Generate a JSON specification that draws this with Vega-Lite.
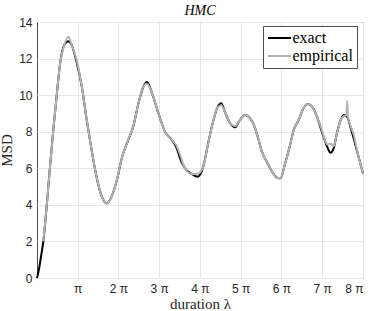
{
  "$schema": "https://vega.github.io/schema/vega-lite/v6.json",
  "width": 326,
  "height": 256,
  "autosize": "none",
  "padding": {"left": 37, "top": 22, "right": 11, "bottom": 33},
  "background": "white",
  "title": {"text": "HMC", "font": "Liberation Serif", "fontStyle": "italic", "fontWeight": "normal", "fontSize": 14, "color": "#000", "frame": "group", "baseline": "alphabetic", "offset": 3, "dy": 16},
  "config": {
    "view": {"stroke": "#4d4d4d", "strokeWidth": 1},
    "axis": {"gridColor": "#e8e8e8", "gridWidth": 1, "domain": false, "tickColor": "#4d4d4d", "labelFont": "Liberation Sans", "labelFontSize": 12, "labelColor": "#262626", "titleFont": "Liberation Serif", "titleFontWeight": "normal", "titleFontSize": 15, "titleColor": "#262626"}
  },
  "datasets": {
    "exact": [
      {"l": 0, "msd": 0, "s": "exact"},
      {"l": 0.157, "msd": 0.5, "s": "exact"},
      {"l": 0.314, "msd": 1.2, "s": "exact"},
      {"l": 0.487, "msd": 2.0, "s": "exact"},
      {"l": 0.754, "msd": 4.0, "s": "exact"},
      {"l": 1.005, "msd": 6.1, "s": "exact"},
      {"l": 1.257, "msd": 8.1, "s": "exact"},
      {"l": 1.508, "msd": 9.9, "s": "exact"},
      {"l": 1.775, "msd": 11.7, "s": "exact"},
      {"l": 2.105, "msd": 12.74, "s": "exact"},
      {"l": 2.419, "msd": 12.95, "s": "exact"},
      {"l": 2.67, "msd": 12.74, "s": "exact"},
      {"l": 3.047, "msd": 11.83, "s": "exact"},
      {"l": 3.456, "msd": 10.46, "s": "exact"},
      {"l": 3.833, "msd": 8.64, "s": "exact"},
      {"l": 4.21, "msd": 7.0, "s": "exact"},
      {"l": 4.587, "msd": 5.54, "s": "exact"},
      {"l": 4.995, "msd": 4.45, "s": "exact"},
      {"l": 5.372, "msd": 4.08, "s": "exact"},
      {"l": 5.749, "msd": 4.45, "s": "exact"},
      {"l": 6.158, "msd": 5.36, "s": "exact"},
      {"l": 6.566, "msd": 6.63, "s": "exact"},
      {"l": 7.037, "msd": 7.55, "s": "exact"},
      {"l": 7.414, "msd": 8.27, "s": "exact"},
      {"l": 7.823, "msd": 9.55, "s": "exact"},
      {"l": 8.2, "msd": 10.46, "s": "exact"},
      {"l": 8.482, "msd": 10.72, "s": "exact"},
      {"l": 8.828, "msd": 10.19, "s": "exact"},
      {"l": 9.362, "msd": 9.0, "s": "exact"},
      {"l": 9.865, "msd": 8.0, "s": "exact"},
      {"l": 10.399, "msd": 7.55, "s": "exact"},
      {"l": 10.776, "msd": 7.09, "s": "exact"},
      {"l": 11.027, "msd": 6.54, "s": "exact"},
      {"l": 11.404, "msd": 6.0, "s": "exact"},
      {"l": 11.938, "msd": 5.69, "s": "exact"},
      {"l": 12.378, "msd": 5.54, "s": "exact"},
      {"l": 12.818, "msd": 6.09, "s": "exact"},
      {"l": 13.195, "msd": 7.36, "s": "exact"},
      {"l": 13.603, "msd": 8.64, "s": "exact"},
      {"l": 13.917, "msd": 9.33, "s": "exact"},
      {"l": 14.2, "msd": 9.55, "s": "exact"},
      {"l": 14.483, "msd": 9.09, "s": "exact"},
      {"l": 14.891, "msd": 8.46, "s": "exact"},
      {"l": 15.268, "msd": 8.24, "s": "exact"},
      {"l": 15.645, "msd": 8.64, "s": "exact"},
      {"l": 16.022, "msd": 8.91, "s": "exact"},
      {"l": 16.431, "msd": 8.73, "s": "exact"},
      {"l": 16.808, "msd": 8.2, "s": "exact"},
      {"l": 17.028, "msd": 7.7, "s": "exact"},
      {"l": 17.342, "msd": 6.9, "s": "exact"},
      {"l": 17.719, "msd": 6.36, "s": "exact"},
      {"l": 18.127, "msd": 5.81, "s": "exact"},
      {"l": 18.504, "msd": 5.48, "s": "exact"},
      {"l": 18.755, "msd": 5.45, "s": "exact"},
      {"l": 19.132, "msd": 6.27, "s": "exact"},
      {"l": 19.541, "msd": 7.36, "s": "exact"},
      {"l": 19.792, "msd": 8.09, "s": "exact"},
      {"l": 20.169, "msd": 8.64, "s": "exact"},
      {"l": 20.546, "msd": 9.28, "s": "exact"},
      {"l": 20.892, "msd": 9.51, "s": "exact"},
      {"l": 21.206, "msd": 9.37, "s": "exact"},
      {"l": 21.583, "msd": 8.82, "s": "exact"},
      {"l": 21.96, "msd": 8.0, "s": "exact"},
      {"l": 22.368, "msd": 7.18, "s": "exact"},
      {"l": 22.619, "msd": 6.85, "s": "exact"},
      {"l": 22.871, "msd": 7.09, "s": "exact"},
      {"l": 23.122, "msd": 7.91, "s": "exact"},
      {"l": 23.373, "msd": 8.55, "s": "exact"},
      {"l": 23.656, "msd": 8.91, "s": "exact"},
      {"l": 23.908, "msd": 8.82, "s": "exact"},
      {"l": 24.159, "msd": 8.27, "s": "exact"},
      {"l": 24.41, "msd": 7.64, "s": "exact"},
      {"l": 24.787, "msd": 6.63, "s": "exact"},
      {"l": 25.133, "msd": 5.72, "s": "exact"}
    ],
    "empirical": [
      {"l": 0.487, "msd": 2.0, "s": "empirical"},
      {"l": 0.754, "msd": 4.0, "s": "empirical"},
      {"l": 1.005, "msd": 6.1, "s": "empirical"},
      {"l": 1.257, "msd": 8.1, "s": "empirical"},
      {"l": 1.508, "msd": 9.9, "s": "empirical"},
      {"l": 1.775, "msd": 11.7, "s": "empirical"},
      {"l": 2.105, "msd": 12.74, "s": "empirical"},
      {"l": 2.419, "msd": 13.2, "s": "empirical"},
      {"l": 2.67, "msd": 12.74, "s": "empirical"},
      {"l": 3.047, "msd": 11.95, "s": "empirical"},
      {"l": 3.456, "msd": 10.46, "s": "empirical"},
      {"l": 3.833, "msd": 8.64, "s": "empirical"},
      {"l": 4.21, "msd": 7.0, "s": "empirical"},
      {"l": 4.587, "msd": 5.54, "s": "empirical"},
      {"l": 4.995, "msd": 4.45, "s": "empirical"},
      {"l": 5.372, "msd": 4.08, "s": "empirical"},
      {"l": 5.749, "msd": 4.45, "s": "empirical"},
      {"l": 6.158, "msd": 5.36, "s": "empirical"},
      {"l": 6.566, "msd": 6.63, "s": "empirical"},
      {"l": 7.037, "msd": 7.55, "s": "empirical"},
      {"l": 7.414, "msd": 8.27, "s": "empirical"},
      {"l": 7.823, "msd": 9.55, "s": "empirical"},
      {"l": 8.2, "msd": 10.46, "s": "empirical"},
      {"l": 8.482, "msd": 10.62, "s": "empirical"},
      {"l": 8.828, "msd": 10.19, "s": "empirical"},
      {"l": 9.362, "msd": 9.0, "s": "empirical"},
      {"l": 9.865, "msd": 8.0, "s": "empirical"},
      {"l": 10.399, "msd": 7.55, "s": "empirical"},
      {"l": 10.776, "msd": 7.2, "s": "empirical"},
      {"l": 11.027, "msd": 6.75, "s": "empirical"},
      {"l": 11.404, "msd": 6.0, "s": "empirical"},
      {"l": 11.938, "msd": 5.69, "s": "empirical"},
      {"l": 12.378, "msd": 5.7, "s": "empirical"},
      {"l": 12.818, "msd": 6.09, "s": "empirical"},
      {"l": 13.195, "msd": 7.36, "s": "empirical"},
      {"l": 13.603, "msd": 8.64, "s": "empirical"},
      {"l": 13.917, "msd": 9.33, "s": "empirical"},
      {"l": 14.2, "msd": 9.45, "s": "empirical"},
      {"l": 14.483, "msd": 9.09, "s": "empirical"},
      {"l": 14.891, "msd": 8.46, "s": "empirical"},
      {"l": 15.268, "msd": 8.3, "s": "empirical"},
      {"l": 15.645, "msd": 8.64, "s": "empirical"},
      {"l": 16.022, "msd": 8.91, "s": "empirical"},
      {"l": 16.431, "msd": 8.73, "s": "empirical"},
      {"l": 16.808, "msd": 8.2, "s": "empirical"},
      {"l": 17.028, "msd": 7.7, "s": "empirical"},
      {"l": 17.342, "msd": 6.9, "s": "empirical"},
      {"l": 17.719, "msd": 6.36, "s": "empirical"},
      {"l": 18.127, "msd": 5.81, "s": "empirical"},
      {"l": 18.504, "msd": 5.48, "s": "empirical"},
      {"l": 18.755, "msd": 5.45, "s": "empirical"},
      {"l": 19.132, "msd": 6.27, "s": "empirical"},
      {"l": 19.541, "msd": 7.36, "s": "empirical"},
      {"l": 19.792, "msd": 8.09, "s": "empirical"},
      {"l": 20.169, "msd": 8.64, "s": "empirical"},
      {"l": 20.546, "msd": 9.28, "s": "empirical"},
      {"l": 20.892, "msd": 9.51, "s": "empirical"},
      {"l": 21.206, "msd": 9.37, "s": "empirical"},
      {"l": 21.583, "msd": 8.82, "s": "empirical"},
      {"l": 21.96, "msd": 8.1, "s": "empirical"},
      {"l": 22.368, "msd": 7.3, "s": "empirical"},
      {"l": 22.619, "msd": 7.35, "s": "empirical"},
      {"l": 22.871, "msd": 7.2, "s": "empirical"},
      {"l": 23.122, "msd": 7.91, "s": "empirical"},
      {"l": 23.373, "msd": 8.55, "s": "empirical"},
      {"l": 23.656, "msd": 8.85, "s": "empirical"},
      {"l": 23.85, "msd": 8.9, "s": "empirical"},
      {"l": 23.908, "msd": 9.7, "s": "empirical"},
      {"l": 23.98, "msd": 8.8, "s": "empirical"},
      {"l": 24.159, "msd": 8.35, "s": "empirical"},
      {"l": 24.41, "msd": 7.85, "s": "empirical"},
      {"l": 24.787, "msd": 6.63, "s": "empirical"},
      {"l": 25.133, "msd": 5.72, "s": "empirical"}
    ]
  },
  "encoding": {
    "x": {"field": "l", "type": "quantitative", "scale": {"domain": [0, 25.13274], "nice": false, "zero": false},
      "axis": {"title": "duration λ", "values": [3.14159, 6.28318, 9.42477, 12.56636, 15.70795, 18.84954, 21.99113, 25.13272], "labelExpr": "round(datum.value/PI) == 1 ? 'π' : round(datum.value/PI) + ' π'", "tickSize": 0, "labelPadding": 5, "titlePadding": 2}},
    "y": {"field": "msd", "type": "quantitative", "scale": {"domain": [0, 14], "nice": false},
      "axis": {"title": "MSD", "values": [0, 2, 4, 6, 8, 10, 12, 14], "tickSize": 0, "labelPadding": 5, "titlePadding": 4}},
    "color": {"field": "s", "type": "nominal", "scale": {"domain": ["exact", "empirical"], "range": ["#000000", "#b3b3b3"]},
      "legend": {"title": null, "orient": "none", "legendX": 226, "legendY": 4, "symbolType": "M-1.64,0H1.64", "symbolSize": 196, "symbolOffset": 4.5, "symbolStrokeWidth": 2, "labelFont": "Liberation Serif", "labelFontSize": 16, "labelColor": "#000", "labelOffset": 5, "rowPadding": 2, "padding": 4, "strokeColor": "#4d4d4d", "fillColor": "white"}}
  },
  "layer": [
    {"data": {"name": "exact"}, "mark": {"type": "line", "strokeWidth": 2, "interpolate": "monotone"}},
    {"data": {"name": "empirical"}, "mark": {"type": "line", "strokeWidth": 2, "interpolate": "monotone"}}
  ]
}
